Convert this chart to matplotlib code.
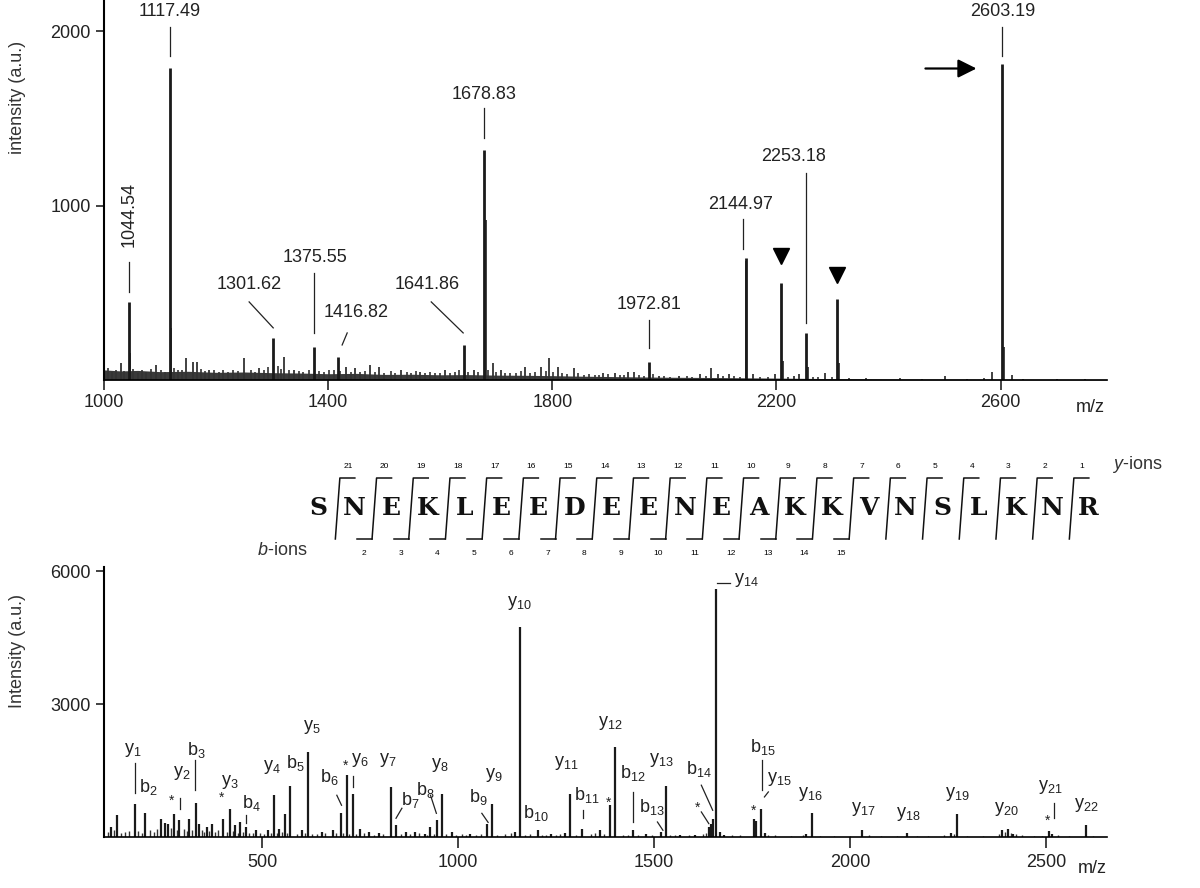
import numpy as np
import matplotlib.pyplot as plt

plt.rcParams['font.family'] = ['Liberation Sans', 'DejaVu Sans']
plt.rcParams['mathtext.fontset'] = 'custom'
plt.rcParams['mathtext.rm'] = 'Liberation Sans'
plt.rcParams['mathtext.it'] = 'Liberation Sans:italic'
plt.rcParams['mathtext.default'] = 'regular'

# ---- top: MALDI-MS spectrum ----
ms_peak_mz = [1044.54, 1117.49, 1301.62, 1375.55, 1416.82, 1641.86, 1678.83,
              1972.81, 2144.97, 2253.18, 2603.19]
ms_peak_int = [448, 1792, 241, 190, 132, 200, 1322, 103, 700, 270, 1810]
ms_marked_mz = [2209, 2309]          # inverted triangles
ms_marked_int = [558, 466]
ms_minor_mz = [1030, 1093, 1147, 1158, 1166, 1188, 1250, 1277, 1322, 1339,
               1431, 1448, 1475, 1491, 1530, 1564, 1609, 1660, 1694, 1708,
               1752, 1780, 1795, 1810, 1838, 1891, 1912, 1936, 1946, 1990,
               2027, 2064, 2084, 2095, 2116, 2146.5, 2159, 2198, 2212, 2232,
               2240, 2256, 2287, 2311.5, 2500, 2585, 2606, 2621, 1047, 1119.5,
               1681]
ms_minor_int = [97, 86, 124, 105, 105, 57, 124, 67, 134, 57,
                76, 67, 86, 76, 57, 48, 57, 57, 97, 57,
                76, 76, 124, 76, 67, 40, 40, 48, 44, 25,
                25, 34, 67, 34, 34, 680, 34, 34, 107, 25,
                34, 76, 40, 97, 25, 48, 190, 30, 155, 300,
                920]
ms_grass_mz = [1008, 1015, 1022, 1036, 1052, 1060, 1068, 1075, 1083, 1101,
               1108, 1125, 1132, 1140, 1173, 1180, 1196, 1205, 1213, 1222,
               1231, 1240, 1262, 1270, 1285, 1293, 1310, 1315, 1330, 1348,
               1356, 1365, 1383, 1392, 1402, 1410, 1422, 1440, 1457, 1466,
               1483, 1500, 1512, 1520, 1540, 1548, 1556, 1573, 1582, 1590,
               1600, 1618, 1626, 1634, 1650, 1668, 1686, 1700, 1716, 1725,
               1735, 1744, 1760, 1770, 1788, 1802, 1818, 1826, 1846, 1856,
               1866, 1876, 1884, 1900, 1920, 1928, 1955, 1963, 1980, 2000,
               2010, 2040, 2050, 2075, 2105, 2125, 2135, 2170, 2185, 2220,
               2265, 2275, 2300, 2330, 2360, 2420, 2460, 2540, 2570, 2640,
               2700, 2750]
ms_grass_int = [70, 45, 60, 50, 65, 40, 55, 48, 62, 58,
                45, 70, 55, 60, 65, 50, 55, 48, 60, 45,
                58, 50, 55, 48, 60, 75, 80, 65, 55, 50,
                45, 58, 50, 45, 55, 60, 50, 45, 48, 52,
                45, 40, 50, 42, 45, 38, 50, 40, 45, 38,
                42, 40, 45, 55, 48, 45, 60, 45, 40, 38,
                42, 50, 40, 45, 50, 45, 40, 35, 38, 30,
                35, 28, 30, 32, 30, 28, 30, 25, 35, 22,
                20, 22, 20, 25, 22, 25, 20, 18, 15, 20,
                15, 18, 15, 12, 10, 10, 8, 8, 12, 8,
                6, 5]
ms_band_mz = [1000, 1030, 1060, 1100, 1150, 1200, 1250, 1300, 1350, 1400,
              1450, 1500, 1550, 1600, 1650, 1700, 1750, 1800, 1850, 1900,
              2000, 2100, 2200, 2300, 2400, 2600, 2790]
ms_band_int = [58, 52, 55, 48, 50, 44, 46, 42, 40, 36,
               38, 32, 33, 30, 31, 28, 27, 25, 22, 20,
               16, 14, 11, 8, 6, 5, 4]

# label text position, leader line (x1, y1, x2, y2)
ms_label_pos = [(1044.54, 948), (1117.49, 2115), (1259, 546), (1377, 701),
                (1450, 385), (1577, 546), (1678.83, 1638), (1973, 431),
                (2136, 1006), (2230, 1282), (2603.19, 2115)]
ms_label_rot = [90, 0, 0, 0, 0, 0, 0, 0, 0, 0, 0]
ms_leaders = [(1044.54, 506, 1044.54, 678), (1117.49, 1856, 1117.49, 2023),
              (1259, 448, 1302, 299), (1375.55, 270, 1375.55, 615),
              (1434, 270, 1425, 201), (1584, 448, 1641, 270),
              (1678.83, 1391, 1678.83, 1563), (1972.81, 184, 1972.81, 345),
              (2141, 753, 2141, 925), (2253.18, 328, 2253.18, 1190),
              (2603.19, 1856, 2603.19, 2023)]
ms_marker_y = [713, 603]

# ---- middle: peptide sequence ----
sequence = list("SNEKLEEDEENEAKKVNSLKNR")
b_observed = [2, 3, 4, 5, 6, 7, 8, 9, 10, 11, 12, 13, 14, 15]

# ---- bottom: MS/MS spectrum ----
msms_mz = [115, 130, 175.1, 202.1, 242, 253, 261, 276, 289.2, 315,
           331.1, 339, 359, 373, 401, 417.3, 432, 445, 459.2, 486,
           515, 530.3, 544, 559, 572.3, 603, 617.4, 652, 681, 701.4,
           717, 731.4, 749, 774, 798, 830.4, 842, 867, 891, 915,
           930, 945.4, 958.6, 984, 1032, 1074.5, 1086.7, 1145, 1157.7, 1203.5,
           1237, 1272, 1286.8, 1317.6, 1362, 1388, 1400.8, 1446.6, 1480, 1517.6,
           1529.8, 1567, 1606, 1640, 1645.7, 1652, 1658.9, 1668, 1678, 1755,
           1760, 1773.9, 1784, 1889, 1903.0, 2032.0, 2145.1, 2259, 2273.2, 2387,
           2402.2, 2417, 2508, 2516.3, 2603.3]
msms_int = [226, 491, 750, 540, 400, 325, 287, 513, 378, 400,
            770, 287, 226, 287, 400, 630, 264, 340, 226, 150,
            165, 955, 190, 530, 1150, 150, 1920, 120, 150, 553,
            1400, 980, 190, 120, 100, 1130, 264, 120, 120, 75,
            226, 378, 980, 120, 75, 287, 755, 120, 4750, 150,
            75, 100, 980, 190, 150, 717, 2035, 150, 75, 120,
            1147, 40, 40, 226, 287, 400, 5600, 120, 40, 400,
            370, 630, 100, 75, 553, 160, 85, 100, 513, 150,
            190, 75, 130, 75, 264]
msms_grass_mz = [108, 122, 140, 150, 160, 185, 195, 215, 225, 232,
                 268, 282, 300, 308, 322, 346, 352, 366, 380, 388,
                 410, 425, 438, 452, 466, 478, 495, 505, 522, 538,
                 552, 565, 590, 610, 628, 640, 662, 690, 708, 722,
                 740, 760, 785, 810, 855, 878, 900, 922, 940, 970,
                 995, 1010, 1020, 1045, 1058, 1100, 1120, 1135, 1170, 1185,
                 1215, 1225, 1250, 1260, 1300, 1340, 1350, 1372, 1420, 1435,
                 1460, 1495, 1540, 1555, 1590, 1625, 1632, 1700, 1720, 1790,
                 1810, 1850, 1880, 1925, 1960, 2000, 2050, 2080, 2120, 2170,
                 2200, 2240, 2265, 2300, 2340, 2380, 2395, 2410, 2425, 2440,
                 2470, 2490, 2530, 2560, 2620]
msms_grass_int = [120, 150, 90, 110, 130, 140, 100, 160, 120, 180,
                  200, 150, 170, 140, 160, 150, 120, 130, 110, 150,
                  120, 140, 100, 110, 90, 100, 80, 70, 90, 80,
                  110, 90, 70, 80, 60, 70, 80, 90, 80, 70,
                  60, 80, 50, 60, 70, 60, 80, 50, 60, 70,
                  50, 60, 40, 50, 60, 50, 60, 80, 50, 60,
                  50, 40, 50, 60, 50, 60, 80, 60, 50, 40,
                  50, 40, 50, 40, 50, 60, 80, 50, 40, 50,
                  40, 30, 40, 30, 30, 30, 40, 30, 30, 30,
                  25, 40, 60, 30, 30, 60, 120, 90, 60, 40,
                  30, 30, 40, 25, 20]

ion_labels = ['y$_1$', 'b$_2$', '*', 'y$_2$', 'b$_3$', '*', 'y$_3$', 'b$_4$',
              'y$_4$', 'b$_5$', 'y$_5$', 'b$_6$', '*', 'y$_6$', 'y$_7$', 'b$_7$',
              'b$_8$', 'y$_8$', 'b$_9$', 'y$_9$', 'y$_{10}$', 'b$_{10}$',
              'y$_{11}$', 'b$_{11}$', '*', 'y$_{12}$', 'b$_{12}$', 'b$_{13}$',
              'y$_{13}$', 'b$_{14}$', '*', 'y$_{14}$', 'b$_{15}$', 'y$_{15}$', '*',
              'y$_{16}$', 'y$_{17}$', 'y$_{18}$', 'y$_{19}$', 'y$_{20}$',
              'y$_{21}$', '*', 'y$_{22}$']
ion_label_pos = [(171, 1962), (210, 1124), (270, 876), (296, 1441), (332, 1962),
                 (398, 943), (418, 1237), (472, 762), (526, 1577), (584, 1667),
                 (628, 2482), (673, 1351), (714, 1667), (750, 1735), (821, 1735),
                 (878, 830), (916, 1055), (954, 1622), (1051, 902), (1092, 1396),
                 (1156, 5290), (1199, 536), (1276, 1667), (1329, 943), (1383, 830),
                 (1390, 2572), (1445, 1441), (1494, 679), (1518, 1735), (1616, 1547),
                 (1611, 717), (1735, 5808), (1779, 2036), (1821, 1321), (1755, 643),
                 (1899, 981), (2033, 643), (2148, 513), (2275, 981), (2400, 643),
                 (2512, 1131), (2505, 416), (2602, 717)]
ion_leaders = [(175, 988, 175, 1667), (290, 643, 290, 891), (330, 1057, 330, 1735),
               (459, 309, 459, 490), (691, 943, 703, 717), (732, 1124, 732, 1375),
               (842, 423, 857, 649), (930, 943, 945, 535), (1061, 535, 1077, 330),
               (1319, 422, 1319, 603), (1447, 339, 1447, 1018), (1509, 339, 1523, 152),
               (1621, 1170, 1650, 604), (1621, 566, 1640, 303), (1662, 5747, 1694, 5747),
               (1775, 1057, 1775, 1735), (1782, 905, 1792, 1018), (2522, 422, 2522, 762)]

W, H = 1200, 888
fig = plt.figure(figsize=(12, 8.88), dpi=100)

# overlay in pixel units for the sequence diagram
ov = fig.add_axes([0, 0, 1, 1])
ov.set_xlim(0, W)
ov.set_ylim(H, 0)
ov.axis('off')

letter_x0, letter_dx, letter_y = 318, 36.7, 508
for i, aa in enumerate(sequence):
    ov.text(letter_x0 + i * letter_dx, letter_y, aa, family='DejaVu Serif',
            weight='bold', fontsize=18, ha='center', va='center', color='#111')
n = len(sequence)
for k in range(1, n):
    xb = letter_x0 + (k - 0.5) * letter_dx - 1
    xt = xb + 4.5
    yb, yt = 539, 478
    ov.plot([xb, xt, xt + 15], [yb, yt, yt], color='#111', lw=1.1)
    ov.text(xt + 8, 466, str(n - k), fontsize=6, ha='center', va='center')
    if k in b_observed:
        ov.plot([xb - 15, xb], [yb, yb], color='#111', lw=1.1)
        ov.text(xb - 8, 553, str(k), fontsize=6, ha='center', va='center')
ov.text(1137, 464, r'$\mathit{y}$-ions', fontsize=13, ha='center', va='center', color='#333')
ov.text(282, 550, r'$\mathit{b}$-ions', fontsize=13, ha='center', va='center', color='#333')


def style(ax):
    for s in ['top', 'right']:
        ax.spines[s].set_visible(False)
    ax.spines['left'].set_linewidth(1.5)
    ax.spines['bottom'].set_linewidth(1.2)
    ax.tick_params(direction='out', length=6, width=1.2, labelsize=13,
                   colors='#222')
    ax.patch.set_alpha(0)


# top panel
ax1 = fig.add_axes([104 / W, 1 - 380 / H, 1003 / W, 380 / H])
ax1.set_xlim(1000, 2790)
ax1.set_ylim(0, 2180)
ax1.fill_between(ms_band_mz, 0, ms_band_int, color='#3a3a3a', lw=0)
ax1.vlines(ms_grass_mz, 0, ms_grass_int, color='#333', lw=1.2)
ax1.vlines(ms_minor_mz, 0, ms_minor_int, color='#333', lw=1.3)
ax1.vlines(ms_peak_mz + ms_marked_mz, 0, ms_peak_int + ms_marked_int,
           color='#1a1a1a', lw=2.0)
for (tx, ty), rot, (x1, y1, x2, y2), mz in zip(ms_label_pos, ms_label_rot,
                                              ms_leaders, ms_peak_mz):
    ax1.text(tx, ty, f'{mz:.2f}', fontsize=13, ha='center', va='center',
             rotation=rot, color='#222')
    ax1.plot([x1, x2], [y1, y2], color='#222', lw=0.9)
ax1.plot(ms_marked_mz, ms_marker_y, marker='v', ms=11, color='k', ls='none')
ax1.annotate('', xy=(2562, 1787), xytext=(2461, 1787),
             arrowprops=dict(arrowstyle='-|>', color='k', lw=1.6, mutation_scale=28))
ax1.set_xticks([1000, 1400, 1800, 2200, 2600])
ax1.set_yticks([1000, 2000])
style(ax1)
ax1.tick_params(axis='x', length=7, pad=3)
fig.text(1090 / W, 1 - 407 / H, 'm/z', fontsize=13, ha='center', va='center', color='#222')
fig.text(18 / W, 1 - 97 / H, 'intensity (a.u.)', fontsize=13, rotation=90,
         ha='center', va='center', color='#333')

# bottom panel
ax2 = fig.add_axes([104 / W, 1 - 837 / H, 1003 / W, 270 / H])
ax2.set_xlim(97, 2656)
ax2.set_ylim(0, 6100)
ax2.vlines(msms_grass_mz, 0, msms_grass_int, color='#333', lw=1.0)
ax2.vlines(msms_mz, 0, msms_int, color='#1a1a1a', lw=1.6)
for s, (tx, ty) in zip(ion_labels, ion_label_pos):
    if s == '*':
        ax2.text(tx, ty - 60, s, fontsize=10, ha='center', va='center', color='#222')
    else:
        ax2.text(tx, ty, s, fontsize=13, ha='center', va='center', color='#222')
for x1, y1, x2, y2 in ion_leaders:
    ax2.plot([x1, x2], [y1, y2], color='#222', lw=0.9)
ax2.set_xticks([500, 1000, 1500, 2000, 2500])
ax2.set_yticks([3000, 6000])
style(ax2)
ax2.tick_params(axis='x', length=8, pad=4)
fig.text(1092 / W, 1 - 868 / H, 'm/z', fontsize=13, ha='center', va='center', color='#222')
fig.text(18 / W, 1 - 651 / H, 'Intensity (a.u.)', fontsize=13, rotation=90,
         ha='center', va='center', color='#333')

fig.savefig('out.png', dpi=100)
